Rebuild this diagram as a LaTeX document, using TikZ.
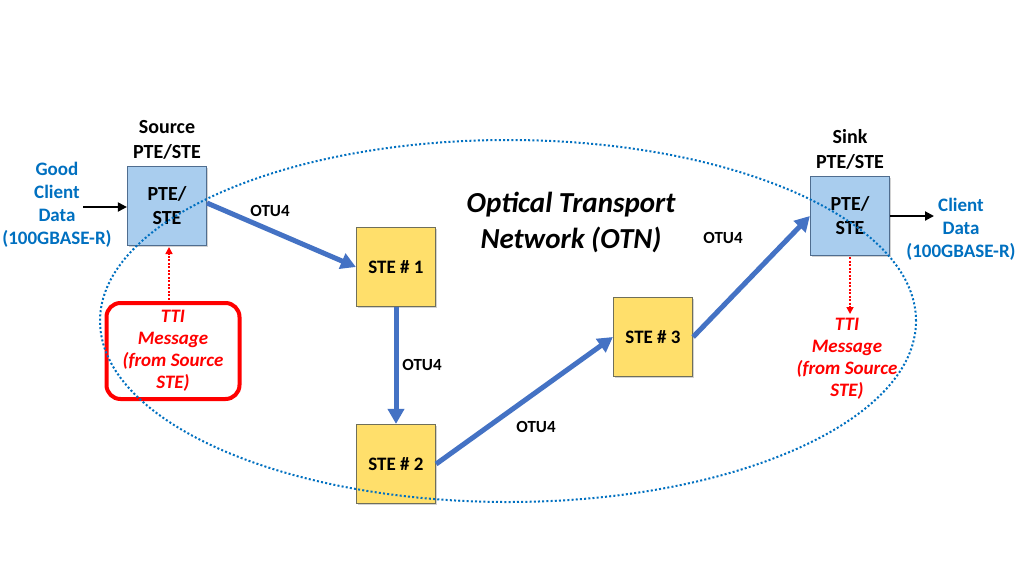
\documentclass[tikz,border=0pt]{standalone}
\usepackage{fontspec}
\setmainfont{Carlito}
\usetikzlibrary{arrows.meta,shadows}
\definecolor{boxblue}{HTML}{A9CDEE}
\definecolor{boxblueb}{HTML}{4F6D8F}
\definecolor{boxyel}{HTML}{FFDF6B}
\definecolor{boxyelb}{HTML}{6F6F5A}
\definecolor{linkblue}{HTML}{4472C4}
\definecolor{txtblue}{HTML}{0070C0}
\definecolor{ttired}{HTML}{FF0000}
\tikzset{
  ptebox/.style={draw=boxblueb,line width=1.2pt,fill=boxblue,minimum width=79pt,minimum height=79pt,inner sep=0pt,align=center,font=\bfseries\fontsize{20}{24}\selectfont,drop shadow={shadow xshift=1.5pt,shadow yshift=-1.5pt,opacity=0.35}},
  stebox/.style={draw=boxyelb,line width=1.2pt,fill=boxyel,minimum width=79pt,minimum height=79pt,inner sep=0pt,align=center,font=\bfseries\fontsize{19}{23}\selectfont,drop shadow={shadow xshift=1.5pt,shadow yshift=-1.5pt,opacity=0.35}},
  link/.style={draw=linkblue,line width=5pt,-{Triangle[length=15pt,width=16pt]}},
  otu/.style={font=\bfseries\fontsize{17}{20}\selectfont},
  bluetxt/.style={text=txtblue,align=center,font=\bfseries\fontsize{19}{23}\selectfont},
  blacktxt/.style={align=center,font=\bfseries\fontsize{20}{25}\selectfont},
  redtxt/.style={text=ttired,align=center,font=\bfseries\itshape\fontsize{19}{22}\selectfont},
  clientarrow/.style={line width=2pt,-{Triangle[length=9pt,width=9pt]}},
  ttiarrow/.style={draw=ttired,line width=1.6pt,dash pattern=on 2pt off 1.5pt,-{Triangle[length=7pt,width=7pt]}}
}
\begin{document}
\begin{tikzpicture}[x=1pt,y=-1pt]
\useasboundingbox[fill=white] (0,0) rectangle (1024,576);
% title
\node[align=center,font=\bfseries\itshape\fontsize{29}{36}\selectfont] (otn) at (571,222) {Optical Transport\\Network (OTN)};
% boxes
\node[ptebox] (src) at (167,206) {PTE/\\STE};
\node[ptebox] (snk) at (850,216) {PTE/\\STE};
\node[stebox] (s1) at (396,267) {STE \# 1};
\node[stebox] (s2) at (396,464) {STE \# 2};
\node[stebox] (s3) at (653,337) {STE \# 3};
% captions
\node[blacktxt,anchor=south] (srccap) at (167,163) {Source\\PTE/STE};
\node[blacktxt,anchor=south] (snkcap) at (850,173) {Sink\\PTE/STE};
\node[bluetxt] (gcd) at (57,205) {Good\\Client\\Data\\(100GBASE-R)};
\node[bluetxt] (cd) at (961,229) {Client\\Data\\(100GBASE-R)};
\coordinate (gcdend) at (83,207);
\coordinate (cdend) at (934,216);
\draw[clientarrow] (gcdend) -- (src.west |- gcdend);
\draw[clientarrow] (snk.east |- cdend) -- (cdend);
% TTI
\node[draw=ttired,line width=4pt,rounded corners=14pt,minimum width=133pt,minimum height=96pt,inner sep=0pt] (ttibox) at (173,351) {};
\node[redtxt] (ttil) at (173,351) {TTI\\Message\\(from Source\\STE)};
\node[redtxt] (ttir) at (847,359) {TTI\\Message\\(from Source\\STE)};
\coordinate (tl1) at (169,303);
\coordinate (tl2) at (169,247);
\coordinate (tr1) at (850,257);
\coordinate (tr2) at (850,314);
\draw[ttiarrow] (tl1) -- (tl2);
\draw[ttiarrow] (tr1) -- (tr2);
% links
\coordinate (srcout) at (207,203);
\draw[link] (srcout) -- (s1.west);
\draw[link] (s1.south) -- (s2.north);
\draw[link] (s2.east) -- (s3.west);
\draw[link] (s3.east) -- (snk.west);
\node[otu] (o1) at (270,211) {OTU4};
\node[otu] (o2) at (422,365) {OTU4};
\node[otu] (o3) at (536,427) {OTU4};
\node[otu] (o4) at (723,238) {OTU4};
% network ellipse (on top)
\draw[txtblue,line width=2pt,dash pattern=on 2pt off 2.2pt] (508,321) ellipse [x radius=408pt, y radius=181pt];
\end{tikzpicture}
\end{document}
